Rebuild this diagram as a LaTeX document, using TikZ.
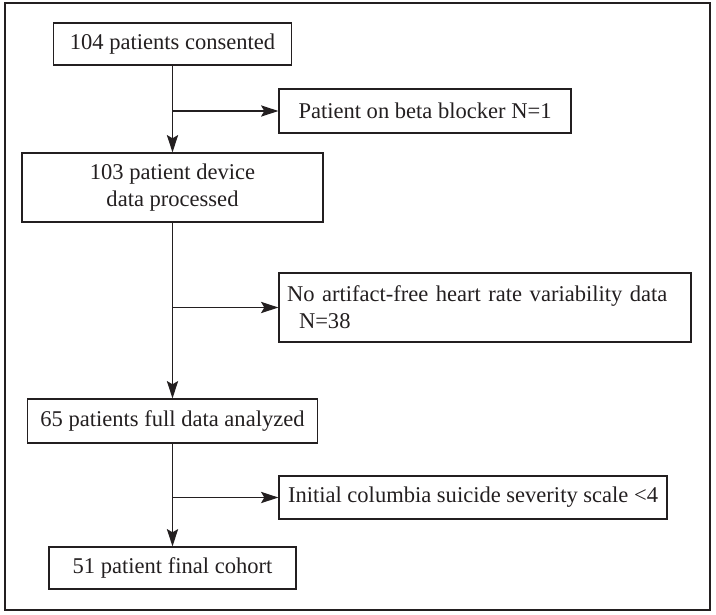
\documentclass[tikz,border=0pt]{standalone}
\usepackage{fontspec}
\setmainfont{Liberation Serif}
\usetikzlibrary{arrows.meta}
\definecolor{ink}{HTML}{231F20}
\begin{document}
\begin{tikzpicture}[x=0.75pt,y=-0.75pt,
  box/.style={draw=ink,line width=1pt,inner sep=0pt,text=ink,
    font=\fontsize{16.9}{20.5}\selectfont,align=center},
  arr/.style={draw=ink,line width=0.9pt,-{Stealth[length=13pt,width=8.5pt,inset=2.5pt]}},
  conn/.style={draw=ink,line width=0.9pt}]
\useasboundingbox (0,0) rectangle (716,614);
\draw[draw=ink,line width=1.1pt] (5,3) rectangle (710,610);
\node[box,minimum width=238*0.75pt,minimum height=42*0.75pt] (b1) at (172.5,44) {104 patients consented};
\node[box,minimum width=292*0.75pt,minimum height=44*0.75pt] (b2) at (425,111) {Patient on beta blocker N=1};
\node[box,minimum width=301*0.75pt,minimum height=69*0.75pt] (b3) at (172.5,187.5) {103 patient device\\data processed};
\node[box,minimum width=412*0.75pt,minimum height=69*0.75pt,align=left,text width=396*0.75pt] (b5) at (485,307.5) {No artifact-free heart rate variability data\\\hspace*{9pt}N=38};
\node[box,minimum width=290*0.75pt,minimum height=44*0.75pt] (b4) at (172.5,421) {65 patients full data analyzed};
\node[box,minimum width=388*0.75pt,minimum height=43*0.75pt] (b7) at (473,497.5) {Initial columbia suicide severity scale <4};
\node[box,minimum width=247*0.75pt,minimum height=42*0.75pt] (b6) at (172.5,568) {51 patient final cohort};
\coordinate (j1) at (172.5,111);
\coordinate (j2) at (172.5,307.5);
\coordinate (j3) at (172.5,497.5);
\draw[arr] (b1.south) -- (b3.north);
\draw[arr] (j1) -- (b2.west);
\draw[arr] (b3.south) -- (b4.north);
\draw[arr] (j2) -- (b5.west);
\draw[arr] (b4.south) -- (b6.north);
\draw[arr] (j3) -- (b7.west);
\end{tikzpicture}
\end{document}
